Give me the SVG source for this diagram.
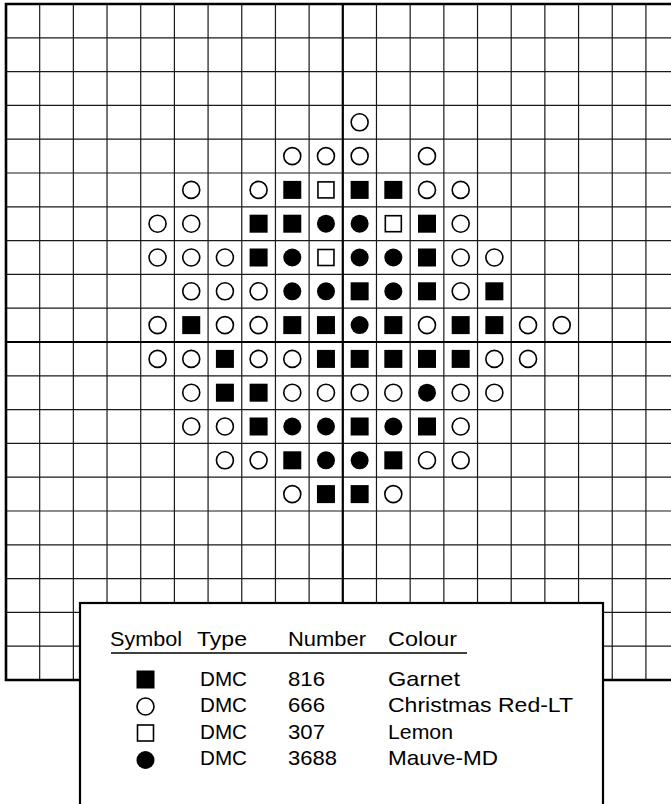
<svg xmlns="http://www.w3.org/2000/svg" xmlns:xlink="http://www.w3.org/1999/xlink" width="671" height="804" viewBox="0 0 671 804">
<style>
.grid{stroke:#1a1a1a;stroke-width:1.2;fill:none}
.thick{stroke:#000;stroke-width:2.2;fill:none}
.border{stroke:#000;stroke-width:2.6;fill:none}
.t{font-family:"Liberation Sans",Arial,Helvetica,sans-serif;font-size:21px;fill:#000}
</style>
<defs>
<circle id="o" r="8.5" fill="none" stroke="#000" stroke-width="1.6"/>
<rect id="s" x="-9" y="-9" width="18" height="18" fill="#000"/>
<rect id="q" x="-8" y="-8" width="16" height="16" fill="none" stroke="#000" stroke-width="1.6"/>
<circle id="d" r="9" fill="#000"/>
</defs>
<rect width="671" height="804" fill="#fff"/>
<g id="grid">
<path class="grid" d="M39.68 4V680M73.36 4V680M107.04 4V680M140.72 4V680M174.4 4V680M208.08 4V680M241.76 4V680M275.44 4V680M309.12 4V680M376.48 4V680M410.16 4V680M443.84 4V680M477.52 4V680M511.2 4V680M544.88 4V680M578.56 4V680M612.24 4V680M645.92 4V680"/>
<path class="grid" d="M6 37.8H671M6 71.6H671M6 105.4H671M6 139.2H671M6 173H671M6 206.8H671M6 240.6H671M6 274.4H671M6 308.2H671M6 375.8H671M6 409.6H671M6 443.4H671M6 477.2H671M6 511H671M6 544.8H671M6 578.6H671M6 612.4H671M6 646.2H671"/>
<path class="thick" d="M342.8 4V680M6 342H671"/>
<path class="border" d="M671 4H6V680H671"/>
</g>
<g id="pattern">
<use xlink:href="#o" x="359.64" y="122.3"/>
<use xlink:href="#o" x="292.28" y="156.1"/><use xlink:href="#o" x="325.96" y="156.1"/><use xlink:href="#o" x="359.64" y="156.1"/><use xlink:href="#o" x="427" y="156.1"/>
<use xlink:href="#o" x="191.24" y="189.9"/><use xlink:href="#o" x="258.6" y="189.9"/><use xlink:href="#s" x="292.28" y="189.9"/><use xlink:href="#q" x="325.96" y="189.9"/><use xlink:href="#s" x="359.64" y="189.9"/><use xlink:href="#s" x="393.32" y="189.9"/><use xlink:href="#o" x="427" y="189.9"/><use xlink:href="#o" x="460.68" y="189.9"/>
<use xlink:href="#o" x="157.56" y="223.7"/><use xlink:href="#o" x="191.24" y="223.7"/><use xlink:href="#s" x="258.6" y="223.7"/><use xlink:href="#s" x="292.28" y="223.7"/><use xlink:href="#d" x="325.96" y="223.7"/><use xlink:href="#d" x="359.64" y="223.7"/><use xlink:href="#q" x="393.32" y="223.7"/><use xlink:href="#s" x="427" y="223.7"/><use xlink:href="#o" x="460.68" y="223.7"/>
<use xlink:href="#o" x="157.56" y="257.5"/><use xlink:href="#o" x="191.24" y="257.5"/><use xlink:href="#o" x="224.92" y="257.5"/><use xlink:href="#s" x="258.6" y="257.5"/><use xlink:href="#d" x="292.28" y="257.5"/><use xlink:href="#q" x="325.96" y="257.5"/><use xlink:href="#d" x="359.64" y="257.5"/><use xlink:href="#d" x="393.32" y="257.5"/><use xlink:href="#s" x="427" y="257.5"/><use xlink:href="#o" x="460.68" y="257.5"/><use xlink:href="#o" x="494.36" y="257.5"/>
<use xlink:href="#o" x="191.24" y="291.3"/><use xlink:href="#o" x="224.92" y="291.3"/><use xlink:href="#o" x="258.6" y="291.3"/><use xlink:href="#d" x="292.28" y="291.3"/><use xlink:href="#d" x="325.96" y="291.3"/><use xlink:href="#s" x="359.64" y="291.3"/><use xlink:href="#d" x="393.32" y="291.3"/><use xlink:href="#s" x="427" y="291.3"/><use xlink:href="#o" x="460.68" y="291.3"/><use xlink:href="#s" x="494.36" y="291.3"/>
<use xlink:href="#o" x="157.56" y="325.1"/><use xlink:href="#s" x="191.24" y="325.1"/><use xlink:href="#o" x="224.92" y="325.1"/><use xlink:href="#o" x="258.6" y="325.1"/><use xlink:href="#s" x="292.28" y="325.1"/><use xlink:href="#s" x="325.96" y="325.1"/><use xlink:href="#d" x="359.64" y="325.1"/><use xlink:href="#s" x="393.32" y="325.1"/><use xlink:href="#o" x="427" y="325.1"/><use xlink:href="#s" x="460.68" y="325.1"/><use xlink:href="#s" x="494.36" y="325.1"/><use xlink:href="#o" x="528.04" y="325.1"/><use xlink:href="#o" x="561.72" y="325.1"/>
<use xlink:href="#o" x="157.56" y="358.9"/><use xlink:href="#o" x="191.24" y="358.9"/><use xlink:href="#s" x="224.92" y="358.9"/><use xlink:href="#o" x="258.6" y="358.9"/><use xlink:href="#o" x="292.28" y="358.9"/><use xlink:href="#s" x="325.96" y="358.9"/><use xlink:href="#s" x="359.64" y="358.9"/><use xlink:href="#s" x="393.32" y="358.9"/><use xlink:href="#s" x="427" y="358.9"/><use xlink:href="#s" x="460.68" y="358.9"/><use xlink:href="#o" x="494.36" y="358.9"/><use xlink:href="#o" x="528.04" y="358.9"/>
<use xlink:href="#o" x="191.24" y="392.7"/><use xlink:href="#s" x="224.92" y="392.7"/><use xlink:href="#s" x="258.6" y="392.7"/><use xlink:href="#o" x="292.28" y="392.7"/><use xlink:href="#o" x="325.96" y="392.7"/><use xlink:href="#o" x="359.64" y="392.7"/><use xlink:href="#o" x="393.32" y="392.7"/><use xlink:href="#d" x="427" y="392.7"/><use xlink:href="#o" x="460.68" y="392.7"/><use xlink:href="#o" x="494.36" y="392.7"/>
<use xlink:href="#o" x="191.24" y="426.5"/><use xlink:href="#o" x="224.92" y="426.5"/><use xlink:href="#s" x="258.6" y="426.5"/><use xlink:href="#d" x="292.28" y="426.5"/><use xlink:href="#d" x="325.96" y="426.5"/><use xlink:href="#s" x="359.64" y="426.5"/><use xlink:href="#d" x="393.32" y="426.5"/><use xlink:href="#s" x="427" y="426.5"/><use xlink:href="#o" x="460.68" y="426.5"/>
<use xlink:href="#o" x="224.92" y="460.3"/><use xlink:href="#o" x="258.6" y="460.3"/><use xlink:href="#s" x="292.28" y="460.3"/><use xlink:href="#d" x="325.96" y="460.3"/><use xlink:href="#d" x="359.64" y="460.3"/><use xlink:href="#s" x="393.32" y="460.3"/><use xlink:href="#o" x="427" y="460.3"/><use xlink:href="#o" x="460.68" y="460.3"/>
<use xlink:href="#o" x="292.28" y="494.1"/><use xlink:href="#s" x="325.96" y="494.1"/><use xlink:href="#s" x="359.64" y="494.1"/><use xlink:href="#o" x="393.32" y="494.1"/>
</g>
<g id="legend">
<rect x="80" y="603" width="523" height="215" fill="#fff" stroke="#000" stroke-width="2.2"/>
<text class="t" x="110" y="646" textLength="72" lengthAdjust="spacingAndGlyphs">Symbol</text>
<text class="t" x="197" y="646" textLength="50" lengthAdjust="spacingAndGlyphs">Type</text>
<text class="t" x="288" y="646" textLength="78" lengthAdjust="spacingAndGlyphs">Number</text>
<text class="t" x="388" y="646" textLength="69" lengthAdjust="spacingAndGlyphs">Colour</text>
<path d="M111 653H467" stroke="#000" stroke-width="1.6"/>
<use xlink:href="#s" x="145.5" y="679.5"/>
<use xlink:href="#o" x="145.5" y="706.5"/>
<use xlink:href="#q" x="145.5" y="733"/>
<use xlink:href="#d" x="145.5" y="760"/>
<text class="t" x="200" y="686" textLength="47" lengthAdjust="spacingAndGlyphs">DMC</text>
<text class="t" x="200" y="712" textLength="47" lengthAdjust="spacingAndGlyphs">DMC</text>
<text class="t" x="200" y="738.5" textLength="47" lengthAdjust="spacingAndGlyphs">DMC</text>
<text class="t" x="200" y="765" textLength="47" lengthAdjust="spacingAndGlyphs">DMC</text>
<text class="t" x="288" y="686" textLength="37" lengthAdjust="spacingAndGlyphs">816</text>
<text class="t" x="288" y="712" textLength="37" lengthAdjust="spacingAndGlyphs">666</text>
<text class="t" x="288" y="738.5" textLength="37" lengthAdjust="spacingAndGlyphs">307</text>
<text class="t" x="288" y="765" textLength="49" lengthAdjust="spacingAndGlyphs">3688</text>
<text class="t" x="388" y="686" textLength="72" lengthAdjust="spacingAndGlyphs">Garnet</text>
<text class="t" x="388" y="712" textLength="185" lengthAdjust="spacingAndGlyphs">Christmas Red-LT</text>
<text class="t" x="388" y="738.5" textLength="65" lengthAdjust="spacingAndGlyphs">Lemon</text>
<text class="t" x="388" y="765" textLength="110" lengthAdjust="spacingAndGlyphs">Mauve-MD</text>
</g>
</svg>
